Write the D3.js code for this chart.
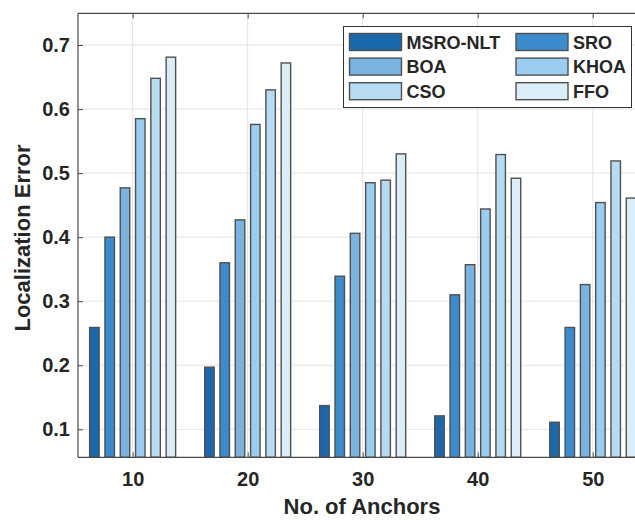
<!DOCTYPE html>
<html><head><meta charset="utf-8">
<script src="https://cdn.jsdelivr.net/npm/d3@7"></script>
<style>body{margin:0;background:#fff}svg{display:block}text{font-family:"Liberation Sans",Arial,sans-serif;font-weight:bold;fill:#262626}</style>
</head><body><svg id="c" width="635" height="520"></svg>
<script>
const anchors = [10, 20, 30, 40, 50];
const seriesNames = ["MSRO-NLT", "SRO", "BOA", "KHOA", "CSO", "FFO"];
const MSRO_NLT = [0.259, 0.197, 0.137, 0.121, 0.111];
const SRO      = [0.400, 0.360, 0.339, 0.310, 0.259];
const BOA      = [0.477, 0.427, 0.406, 0.357, 0.326];
const KHOA     = [0.585, 0.576, 0.485, 0.444, 0.454];
const CSO      = [0.648, 0.630, 0.489, 0.529, 0.519];
const FFO      = [0.681, 0.672, 0.530, 0.492, 0.461];
const yTicks = [0.1, 0.2, 0.3, 0.4, 0.5, 0.6, 0.7];
const colors = ["#1c68ac", "#3b8bcd", "#7ab3e0", "#9bcdf0", "#b6dbf3", "#dbeef8"];

const values = [MSRO_NLT, SRO, BOA, KHOA, CSO, FFO];
const svg = d3.select("#c");
const L = 78, R = 652, T = 13.3, B = 457.3;

const x = d3.scaleLinear().domain([5.25, 55.15]).range([L, R]);
const y = d3.scaleLinear().domain([0.0563, 0.7495]).range([B, T]);
const xSub = d3.scaleBand().domain(seriesNames).range([-45.9, 45.9]).paddingInner(0.38).paddingOuter(0.19);

// grid
const g = svg.append("g");
g.selectAll(".gy").data(yTicks).enter().append("line")
  .attr("x1", L).attr("x2", R).attr("y1", d => y(d)).attr("y2", d => y(d))
  .attr("stroke", "#e3e3e3").attr("stroke-width", 1);
g.selectAll(".gx").data(anchors).enter().append("line")
  .attr("x1", d => x(d)).attr("x2", d => x(d)).attr("y1", T).attr("y2", B)
  .attr("stroke", "#e3e3e3").attr("stroke-width", 1);

// bars
seriesNames.forEach((s, si) => {
  svg.append("g").selectAll("rect").data(anchors).enter().append("rect")
    .attr("x", d => x(d) + xSub(s))
    .attr("width", xSub.bandwidth())
    .attr("y", (d, i) => y(values[si][i]))
    .attr("height", (d, i) => B - y(values[si][i]))
    .attr("fill", colors[si])
    .attr("stroke", "#505050").attr("stroke-width", 1.4);
});

// axes frame
const axc = "#4a4a4a";
svg.append("line").attr("x1", L).attr("x2", R).attr("y1", T).attr("y2", T).attr("stroke", axc).attr("stroke-width", 1.2);
svg.append("line").attr("x1", L).attr("x2", R).attr("y1", B).attr("y2", B).attr("stroke", axc).attr("stroke-width", 1.2);
svg.append("line").attr("x1", L).attr("x2", L).attr("y1", T).attr("y2", B).attr("stroke", axc).attr("stroke-width", 1.2);

const yAxis = d3.axisLeft(y).tickValues(yTicks).tickFormat(d3.format(".1f")).tickSizeInner(-5).tickSizeOuter(0).tickPadding(8);
const ya = svg.append("g").attr("transform", `translate(${L},0)`).call(yAxis);
ya.select(".domain").remove();
ya.selectAll("line").attr("stroke", axc);
ya.selectAll("text").style("font-size", "20px").attr("fill", "#262626");

const xAxis = d3.axisBottom(x).tickValues(anchors).tickFormat(d3.format("d")).tickSizeInner(-5).tickSizeOuter(0).tickPadding(15);
const xa = svg.append("g").attr("transform", `translate(0,${B})`).call(xAxis);
xa.select(".domain").remove();
xa.selectAll("line").attr("stroke", axc);
xa.selectAll("text").style("font-size", "20px").attr("fill", "#262626");

const xTop = d3.axisTop(x).tickValues(anchors).tickFormat("").tickSizeInner(-5).tickSizeOuter(0);
const xt = svg.append("g").attr("transform", `translate(0,${T})`).call(xTop);
xt.select(".domain").remove();
xt.selectAll("line").attr("stroke", axc);

// labels
svg.append("text").attr("x", 362).attr("y", 514).attr("text-anchor", "middle").style("font-size", "22px").text("No. of Anchors");
svg.append("text").attr("transform", "translate(30,238) rotate(-90)").attr("text-anchor", "middle").style("font-size", "22px").text("Localization Error");

// legend
const lg = svg.append("g");
lg.append("rect").attr("x", 343.5).attr("y", 26.5).attr("width", 288).attr("height", 81)
  .attr("fill", "#fff").attr("stroke", "#333").attr("stroke-width", 1);
seriesNames.forEach((s, i) => {
  const col = i % 2, row = Math.floor(i / 2);
  const sx = col === 0 ? 349.5 : 516;
  const sy = 33.5 + row * 24.6;
  lg.append("rect").attr("x", sx).attr("y", sy).attr("width", 52).attr("height", 17)
    .attr("fill", colors[i]).attr("stroke", "#505050").attr("stroke-width", 1.4);
  lg.append("text").attr("x", sx + 57).attr("y", sy + 15).style("font-size", "18px").text(s);
});
</script></body></html>
